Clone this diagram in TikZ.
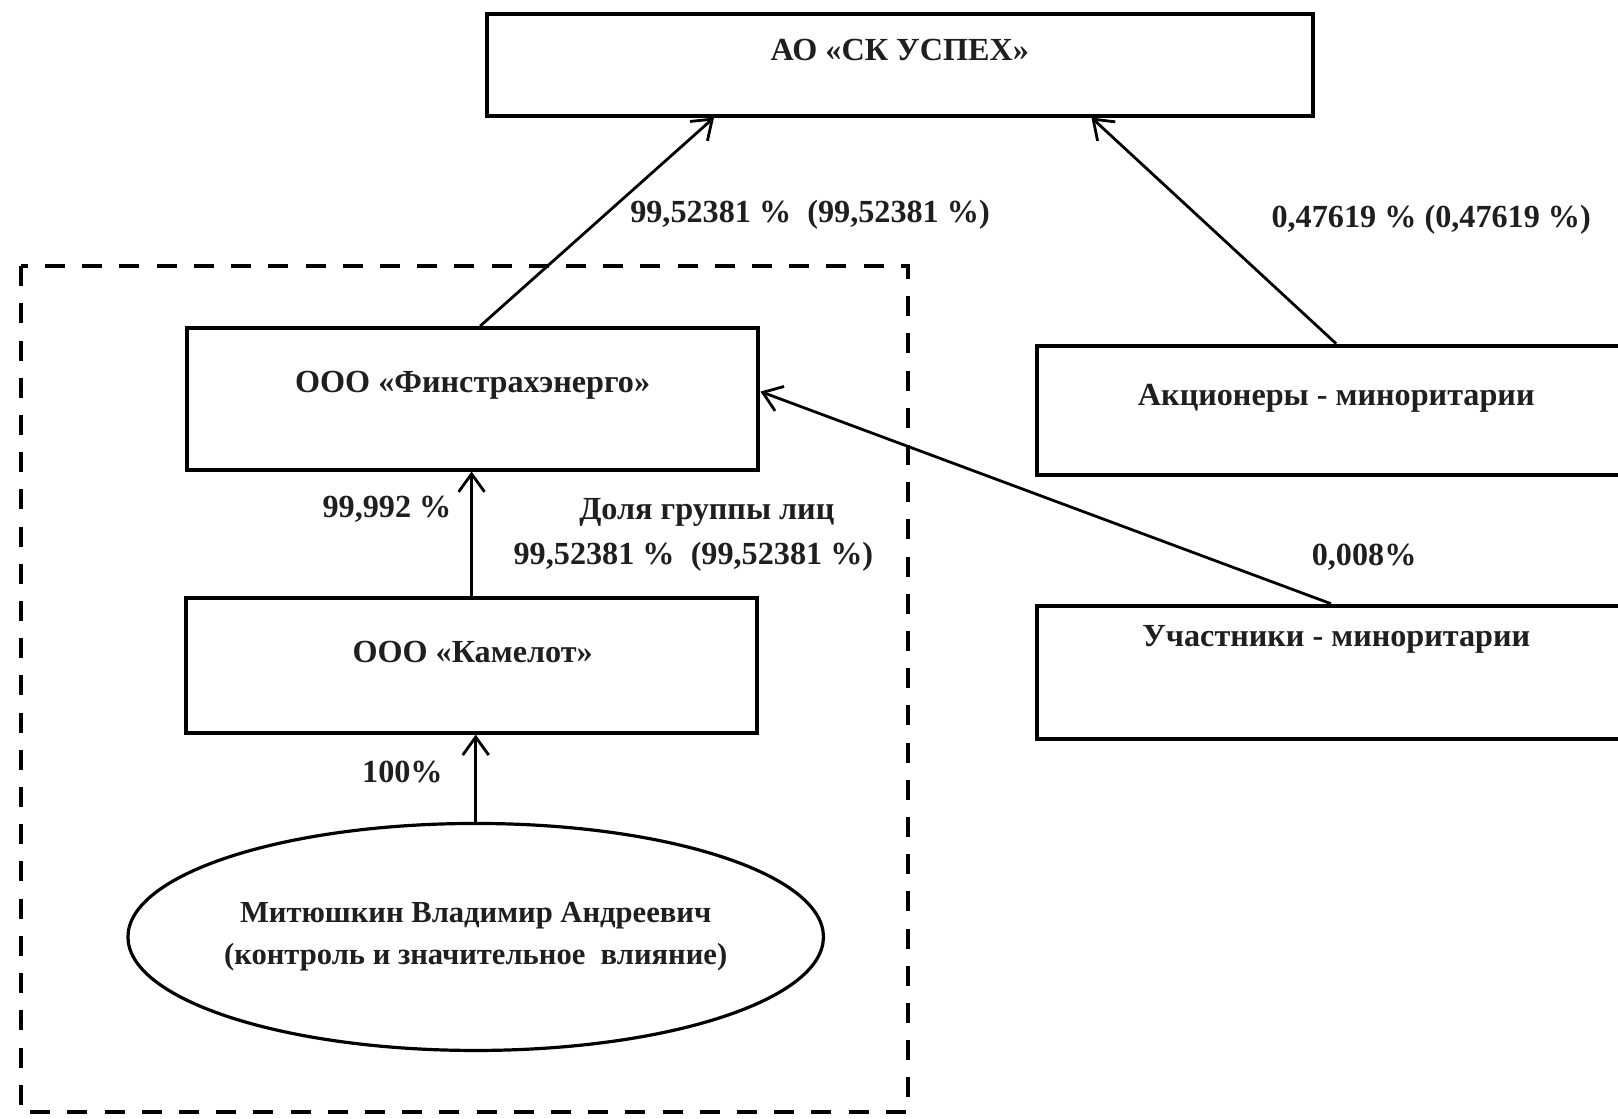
\documentclass[tikz,border=0pt]{standalone}
\usepackage{fontspec}
\setmainfont{Liberation Serif}
\usetikzlibrary{arrows.meta,calc,shapes.geometric}
\def\myu{0.5159pt}
\begin{document}
\begin{tikzpicture}[x=\myu,y=-\myu,
  box/.style={draw=black,line width=2pt,rectangle,inner sep=0pt,fill=none},
  txt/.style={inner sep=0pt,font=\bfseries\fontsize{16.1}{19}\selectfont,text=black!88},
  etxt/.style={inner sep=0pt,font=\bfseries\fontsize{15.3}{18}\selectfont,text=black!88},
  arr/.style={line width=1.4pt,-{Straight Barb[length=9pt,width=13pt,line width=1.4pt]}},
  grpframe/.style={line width=1.9pt,dash pattern=on 10pt off 8.6pt}]
\useasboundingbox (0,0) rectangle (1568,1084.4);
% boxes
\node[box,minimum width={800*\myu},minimum height={98*\myu}] (top) at (872,63) {};
\node[txt] (toptxt) at (872,48) {АО «СК УСПЕХ»};
\node[box,minimum width={554*\myu},minimum height={137*\myu}] (fin) at (458,386.5) {};
\node[txt] (fintxt) at (458,373) {ООО «Финстрахэнерго»};
\node[box,minimum width={554*\myu},minimum height={130*\myu}] (kam) at (457,645) {};
\node[txt] (kamtxt) at (458,632) {ООО «Камелот»};
\node[box,minimum width={625*\myu},minimum height={125*\myu}] (akc) at (1317.5,397.5) {};
\node[txt] (akctxt) at (1295,386) {Акционеры - миноритарии};
\node[box,minimum width={625*\myu},minimum height={129*\myu}] (uch) at (1317.5,651.5) {};
\node[txt] (uchtxt) at (1295,620) {Участники - миноритарии};
\node[draw=black,line width=1.6pt,ellipse,inner sep=0pt,minimum width={674*\myu},minimum height={220*\myu}] (ell) at (461,908) {};
\node[etxt] (ell1) at (461,887) {Митюшкин Владимир Андреевич};
\node[etxt] (ell2) at (461,928) {(контроль и значительное\ \ влияние)};
% group frame
\draw[grpframe] (20,258) rectangle (880,1078);
% arrows
\draw[arr] ($(fin.north west)!0.513!(fin.north east)$) -- ($(top.south west)!0.276!(top.south east)$);
\draw[arr] ($(akc.north west)!0.464!(akc.north east)$) -- ($(top.south west)!0.731!(top.south east)$);
\draw[arr] (kam.north) -- (kam.north |- fin.south);
\draw[arr] (ell.north) -- (ell.north |- kam.south);
\draw[arr] ($(uch.north west)!0.456!(uch.north east)$) -- ($(fin.north east)!0.45!(fin.south east)$);
% labels
\node[txt] (l1) at (785,208) {99,52381 \%\ \ (99,52381 \%)};
\node[txt] (l2) at (1387,213) {0,47619 \% (0,47619 \%)};
\node[txt] (l3) at (375,494) {99,992 \%};
\node[txt] (l4) at (685,497) {Доля группы лиц};
\node[txt] (l5) at (672,540) {99,52381 \%\ \ (99,52381 \%)};
\node[txt] (l6) at (1322,540) {0,008\%};
\node[txt] (l7) at (390,748) {100\%};
\end{tikzpicture}
\end{document}
